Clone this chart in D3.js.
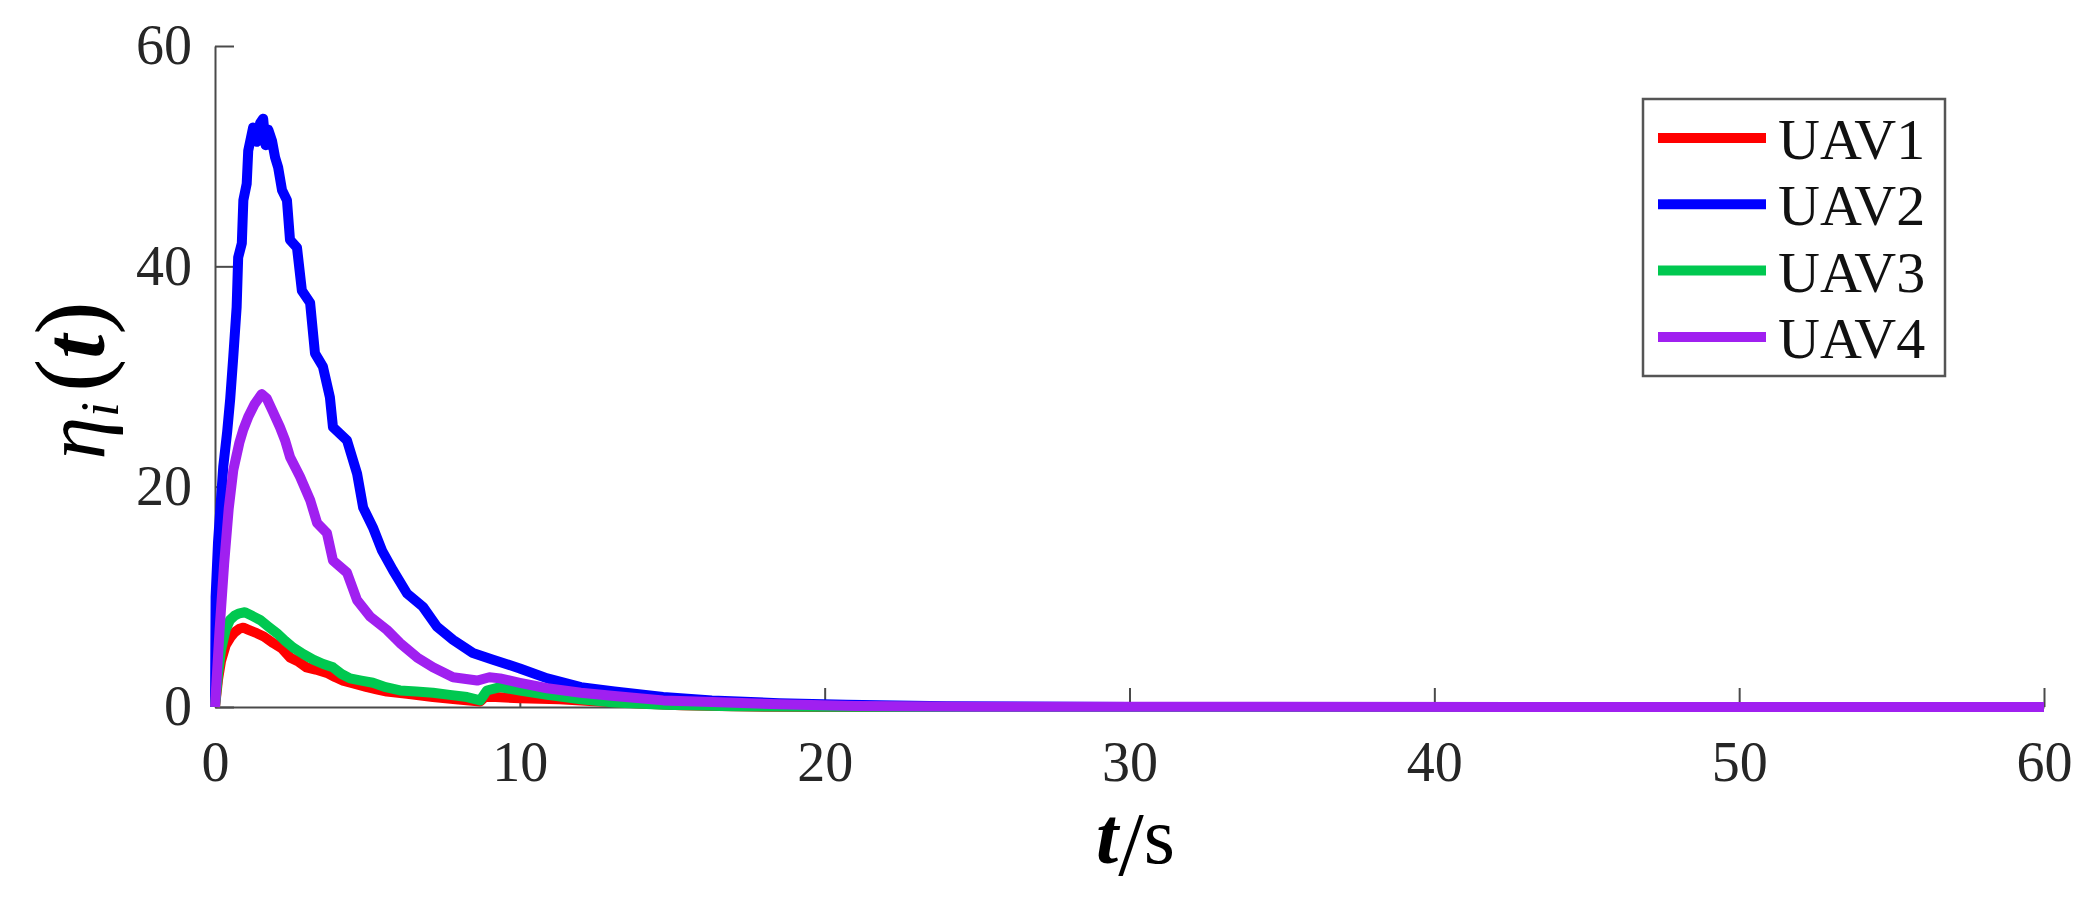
<!DOCTYPE html>
<html>
<head>
<meta charset="utf-8">
<script src="https://cdn.jsdelivr.net/npm/d3@7"></script>
<style>
  html, body { margin: 0; padding: 0; background: #fff; }
  svg { display: block; }
  text { font-family: "Liberation Serif", "Times New Roman", serif; }
</style>
</head>
<body>
<svg id="chart" width="2100" height="905"></svg>
<script>
// ---- data ----
const seriesNames = ["UAV1", "UAV2", "UAV3", "UAV4"];
const xTicks = [0, 10, 20, 30, 40, 50, 60];
const yTicks = [0, 20, 40, 60];

const uav1T = [0,0.1,0.2,0.35,0.5,0.65,0.8,0.93,1.1,1.37,1.6,1.91,2.2,2.46,2.75,3.0,3.3,3.67,3.95,4.2,4.6,4.99,5.3,5.64,6.3,7.15,7.9,8.7,8.85,9.2,10,11.3,12.3,13.3,14.3,15.3,16.5,18,20,25,60];
const uav1V = [0,2.5,4.2,5.6,6.3,6.8,7.1,7.2,7.0,6.7,6.4,5.8,5.3,4.5,4.1,3.6,3.4,3.1,2.7,2.4,2.1,1.8,1.6,1.4,1.2,0.9,0.7,0.5,0.9,0.9,0.8,0.7,0.55,0.4,0.28,0.15,0.08,0.03,0.01,0,0];

const uav2T = [0,0.02,0.1,0.27,0.4,0.5,0.6,0.71,0.76,0.88,0.93,1.04,1.09,1.25,1.38,1.48,1.58,1.66,1.75,1.87,1.97,2.07,2.2,2.36,2.46,2.69,2.85,3.12,3.28,3.54,3.77,3.87,4.33,4.66,4.86,5.18,5.48,5.84,6.3,6.82,7.28,7.81,8.46,9.12,10,10.9,12,13.1,14.7,16.3,18.5,20.7,24,30,60];
const uav2V = [0,10,15,21.8,25,28,31.8,36.3,40.8,42.1,46,47.5,50.5,52.6,51.3,53,53.4,51,52.4,51.4,49.9,49,46.9,46,42.4,41.7,37.8,36.7,32.1,30.9,28.1,25.4,24.2,21.2,18.1,16.3,14.2,12.4,10.3,9.1,7.3,6.1,4.9,4.3,3.5,2.6,1.8,1.4,0.9,0.6,0.35,0.2,0.07,0.01,0];

const uav3T = [0,0.1,0.2,0.35,0.49,0.65,0.8,0.98,1.2,1.48,1.75,2.03,2.3,2.56,2.9,3.22,3.55,3.87,4.15,4.43,4.8,5.18,5.6,6.07,6.6,7.15,7.7,8.27,8.7,8.92,9.35,10,10.9,12,13.1,14.7,17,20,25,60];
const uav3V = [0,3.0,5.2,7.0,7.9,8.3,8.5,8.6,8.3,7.9,7.3,6.7,6.0,5.4,4.8,4.3,3.9,3.6,3.0,2.6,2.4,2.2,1.8,1.5,1.4,1.3,1.1,0.9,0.6,1.5,1.8,1.5,1.1,0.7,0.4,0.2,0.06,0.02,0,0];

const uav4T = [0,0.15,0.3,0.45,0.6,0.8,0.93,1.1,1.3,1.53,1.7,1.9,2.13,2.3,2.46,2.79,3.12,3.35,3.67,3.87,4.33,4.66,5.09,5.64,6.07,6.63,7.15,7.81,8.6,9.0,9.35,10,10.9,12,13.1,14.7,16.3,18.5,21,25,60];
const uav4V = [0,7,13,18,21.5,24,25.2,26.4,27.5,28.4,28,26.8,25.4,24.2,22.7,20.9,18.8,16.7,15.8,13.3,12.2,9.7,8.2,7.0,5.8,4.5,3.6,2.7,2.4,2.7,2.6,2.2,1.7,1.3,1.0,0.6,0.45,0.25,0.1,0.02,0];

const seriesT = [uav1T, uav2T, uav3T, uav4T];
const seriesV = [uav1V, uav2V, uav3V, uav4V];
const colors = ["#ff0000", "#0000ff", "#00c850", "#a020f0"];

// ---- layout ----
const svg = d3.select("#chart");
const plot = { left: 215, right: 2044, top: 46, bottom: 707 };
const x = d3.scaleLinear().domain([0, 60]).range([plot.left, plot.right]);
const y = d3.scaleLinear().domain([0, 60]).range([plot.bottom, plot.top]);
const axisColor = "#4a4a4a";
const textColor = "#262626";
const tickFont = 56;

// x axis
const gx = svg.append("g").attr("transform", `translate(0,${plot.bottom})`)
  .call(d3.axisBottom(x).tickValues(xTicks).tickFormat(d3.format("d"))
    .tickSizeInner(-19).tickSizeOuter(0).tickPadding(34));
// y axis
const gy = svg.append("g").attr("transform", `translate(${plot.left},0)`)
  .call(d3.axisLeft(y).tickValues(yTicks).tickFormat(d3.format("d"))
    .tickSizeInner(-19).tickSizeOuter(0).tickPadding(23));

[gx, gy].forEach(g => {
  g.attr("font-family", null).attr("font-size", null);
  g.select(".domain").attr("stroke", axisColor).attr("stroke-width", 2);
  g.selectAll(".tick line").attr("stroke", axisColor).attr("stroke-width", 2);
  g.selectAll(".tick text").attr("fill", textColor)
    .style("font-family", '"Liberation Serif", "Times New Roman", serif')
    .style("font-size", tickFont + "px");
});

// lines
const line = d3.line().x(d => x(d[0])).y(d => y(d[1]));
seriesNames.forEach((name, i) => {
  const pts = seriesT[i].map((t, k) => [t, seriesV[i][k]]);
  svg.append("path")
    .datum(pts)
    .attr("d", line)
    .attr("fill", "none")
    .attr("stroke", colors[i])
    .attr("stroke-width", 10)
    .attr("stroke-linejoin", "round")
    .attr("stroke-linecap", "butt");
});

// x label: t/s
const xl = svg.append("text")
  .attr("x", (plot.left + plot.right) / 2 + 6)
  .attr("y", 863)
  .attr("text-anchor", "middle")
  .attr("fill", "#000")
  .style("font-size", "80px");
xl.append("tspan").attr("font-style", "italic").attr("font-weight", "bold").text("t");
xl.append("tspan").style("font-size", "92px").attr("dy", 12).text("/");
xl.append("tspan").attr("dy", -12).text("s");

// y label: η_i(t)
const yl = svg.append("text")
  .attr("transform", `translate(104,${(plot.top + plot.bottom) / 2 + 4}) rotate(-90)`)
  .attr("text-anchor", "middle")
  .attr("fill", "#000")
  .style("font-size", "86px");
yl.append("tspan").attr("font-style", "italic").text("η");
yl.append("tspan").attr("font-style", "italic").style("font-size", "54px").attr("dy", 14).text("i");
yl.append("tspan").style("font-size", "100px").attr("dy", -14).attr("dx", 10).text("(");
yl.append("tspan").attr("font-style", "italic").attr("font-weight", "bold").text("t");
yl.append("tspan").style("font-size", "100px").text(")");

// legend
const legend = { x: 1643, y: 99, w: 302, h: 277, firstRow: 39, rowGap: 66.3, lineX0: 15, lineX1: 123, textX: 135 };
const lg = svg.append("g").attr("transform", `translate(${legend.x},${legend.y})`);
lg.append("rect").attr("width", legend.w).attr("height", legend.h)
  .attr("fill", "#fff").attr("stroke", "#555").attr("stroke-width", 2.5);
seriesNames.forEach((name, i) => {
  const ry = legend.firstRow + i * legend.rowGap;
  lg.append("line").attr("x1", legend.lineX0).attr("x2", legend.lineX1)
    .attr("y1", ry).attr("y2", ry)
    .attr("stroke", colors[i]).attr("stroke-width", 10);
  lg.append("text").attr("x", legend.textX).attr("y", ry + 21)
    .attr("fill", "#111").style("font-size", "58px").text(name);
});
</script>
</body>
</html>
